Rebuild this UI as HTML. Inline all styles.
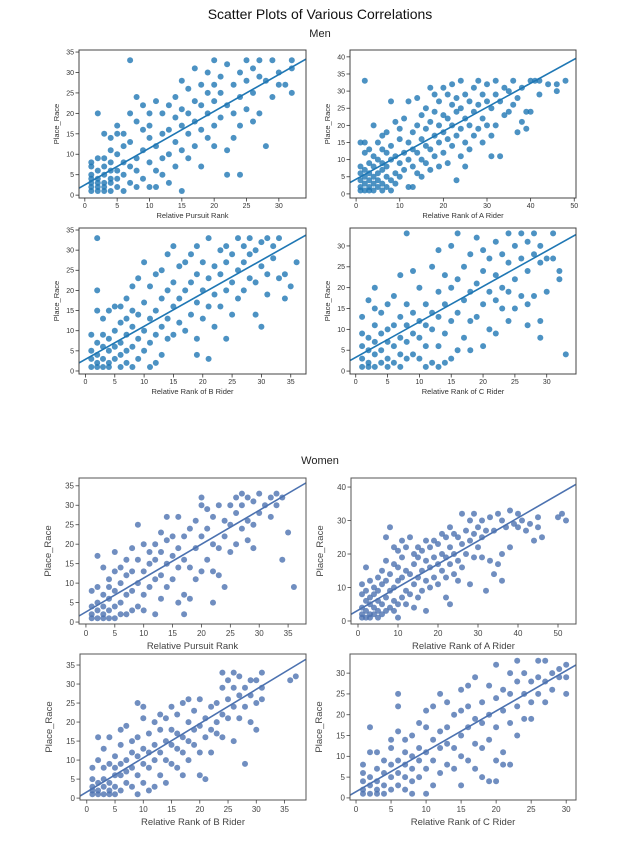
<!DOCTYPE html>
<html><head><meta charset="utf-8"><style>
body{margin:0;background:#fff;width:640px;height:854px;overflow:hidden}
svg{display:block;font-family:"Liberation Sans","DejaVu Sans",sans-serif}
</style></head><body>
<svg id="fig" width="640" height="854">
<text x="320" y="19" text-anchor="middle" font-size="14" fill="#111">Scatter Plots of Various Correlations</text>
<text x="320" y="37" text-anchor="middle" font-size="11" fill="#222">Men</text>
<text x="320" y="464" text-anchor="middle" font-size="11" fill="#222">Women</text>
</svg>
<script>
const menPursuit=[[1,1],[1,2],[1,3],[1,4],[1,5],[1,7],[1,8],[2,1],[2,2],[2,3],[2,4],[2,6],[2,9],[2,20],[3,1],[3,2],[3,3],[3,5],[3,7],[3,9],[3,15],[4,1],[4,3],[4,4],[4,6],[4,8],[4,11],[4,14],[5,2],[5,4],[5,6],[5,10],[5,15],[5,17],[6,1],[6,5],[6,8],[6,12],[6,15],[7,3],[7,7],[7,13],[7,20],[7,33],[8,2],[8,6],[8,9],[8,18],[8,24],[9,4],[9,11],[9,16],[9,22],[10,2],[10,8],[10,14],[10,17],[10,20],[11,2],[11,6],[11,12],[11,23],[12,5],[12,9],[12,15],[12,20],[13,3],[13,10],[13,16],[13,22],[14,7],[14,13],[14,19],[14,24],[15,1],[15,11],[15,17],[15,21],[15,28],[16,9],[16,15],[16,20],[16,26],[17,12],[17,18],[17,23],[17,31],[18,7],[18,16],[18,22],[18,27],[19,14],[19,20],[19,25],[19,30],[20,12],[20,17],[20,23],[20,27],[20,33],[21,19],[21,25],[21,29],[22,11],[22,5],[22,22],[22,32],[23,14],[23,20],[23,27],[24,5],[24,17],[24,24],[24,30],[25,21],[25,28],[25,33],[26,18],[26,25],[26,31],[27,20],[27,29],[27,33],[28,12],[28,28],[29,24],[29,33],[30,27],[30,30],[31,27],[32,25],[32,33],[32,31]];
const menA=[[1,1],[1,2],[1,4],[1,6],[1,8],[1,15],[2,1],[2,3],[2,5],[2,7],[2,12],[2,15],[2,33],[3,1],[3,2],[3,4],[3,6],[3,9],[3,13],[4,1],[4,3],[4,5],[4,8],[4,11],[4,20],[5,2],[5,4],[5,6],[5,10],[5,15],[6,1],[6,3],[6,7],[6,9],[6,13],[6,17],[7,2],[7,5],[7,8],[7,12],[7,18],[8,1],[8,4],[8,10],[8,14],[8,27],[9,3],[9,6],[9,11],[9,21],[10,5],[10,9],[10,16],[10,19],[11,7],[11,12],[11,22],[12,2],[12,10],[12,15],[12,27],[13,2],[13,8],[13,13],[13,18],[14,6],[14,12],[14,20],[14,28],[15,5],[15,10],[15,16],[15,23],[16,9],[16,14],[16,19],[16,25],[17,7],[17,13],[17,21],[17,31],[18,11],[18,17],[18,24],[18,29],[19,8],[19,15],[19,20],[19,27],[20,12],[20,18],[20,23],[20,31],[21,9],[21,16],[21,22],[21,29],[22,14],[22,20],[22,26],[22,32],[23,4],[23,17],[23,24],[23,28],[24,11],[24,19],[24,25],[24,33],[25,8],[25,15],[25,22],[25,29],[26,13],[26,20],[26,27],[27,17],[27,24],[27,31],[28,19],[28,26],[28,33],[29,15],[29,22],[29,29],[30,20],[30,27],[30,32],[31,11],[31,17],[31,25],[32,20],[32,29],[32,33],[33,11],[33,27],[34,23],[34,31],[35,24],[35,30],[36,26],[36,33],[37,18],[37,28],[38,21],[38,31],[39,19],[39,24],[40,33],[40,24],[41,33],[42,29],[42,33],[44,32],[46,30],[46,32],[48,33]];
const menB=[[1,1],[1,3],[1,5],[1,9],[2,1],[2,2],[2,4],[2,7],[2,15],[2,20],[2,33],[3,1],[3,3],[3,6],[3,9],[3,13],[4,1],[4,2],[4,5],[4,8],[4,15],[5,3],[5,6],[5,10],[5,16],[6,1],[6,4],[6,7],[6,12],[6,16],[7,2],[7,5],[7,9],[7,13],[7,18],[8,1],[8,6],[8,11],[8,15],[8,21],[9,3],[9,8],[9,14],[9,23],[10,5],[10,10],[10,17],[10,27],[11,1],[11,7],[11,13],[11,21],[12,2],[12,9],[12,15],[12,24],[13,4],[13,11],[13,18],[13,25],[14,8],[14,13],[14,20],[14,29],[15,9],[15,16],[15,22],[15,31],[16,12],[16,18],[16,26],[17,10],[17,20],[17,27],[18,14],[18,22],[18,29],[19,4],[19,8],[19,17],[19,24],[19,31],[20,13],[20,20],[20,27],[21,3],[21,16],[21,23],[21,33],[22,11],[22,19],[22,26],[23,16],[23,24],[23,30],[24,8],[24,20],[24,27],[24,31],[25,14],[25,22],[25,29],[26,18],[26,25],[26,33],[27,20],[27,27],[27,31],[28,23],[28,29],[28,33],[29,14],[29,22],[29,30],[30,11],[30,26],[30,32],[31,19],[31,24],[31,33],[32,28],[32,31],[33,23],[33,33],[34,18],[34,24],[35,21],[36,27]];
const menC=[[1,1],[1,3],[1,6],[1,9],[1,13],[2,1],[2,2],[2,5],[2,8],[2,17],[3,1],[3,4],[3,7],[3,11],[3,15],[3,20],[4,2],[4,5],[4,9],[4,14],[5,1],[5,3],[5,7],[5,10],[5,16],[6,2],[6,6],[6,11],[6,18],[7,1],[7,4],[7,8],[7,13],[7,23],[8,3],[8,7],[8,11],[8,16],[8,33],[9,4],[9,9],[9,14],[9,24],[10,3],[10,8],[10,12],[10,20],[11,6],[11,11],[11,16],[11,1],[12,2],[12,10],[12,14],[12,25],[13,1],[13,6],[13,13],[13,19],[13,29],[14,2],[14,9],[14,16],[14,23],[15,3],[15,12],[15,20],[15,30],[16,5],[16,14],[16,22],[16,33],[17,8],[17,17],[17,25],[18,5],[18,12],[18,19],[18,28],[19,13],[19,21],[19,32],[20,6],[20,16],[20,24],[20,29],[21,10],[21,19],[21,27],[22,9],[22,17],[22,23],[22,31],[23,15],[23,20],[23,28],[24,12],[24,19],[24,26],[24,33],[25,15],[25,22],[25,30],[26,18],[26,27],[26,33],[27,11],[27,16],[27,24],[27,31],[28,18],[28,28],[28,33],[29,8],[29,12],[29,26],[29,30],[30,19],[30,27],[31,27],[31,33],[32,22],[32,24],[33,4]];
const womenPursuit=[[1,1],[1,2],[1,4],[1,8],[2,1],[2,3],[2,5],[2,9],[2,17],[3,1],[3,2],[3,4],[3,7],[3,14],[4,1],[4,3],[4,6],[4,9],[4,11],[5,1],[5,4],[5,8],[5,13],[5,18],[6,2],[6,5],[6,10],[6,14],[7,2],[7,7],[7,12],[7,16],[8,3],[8,8],[8,13],[8,19],[9,4],[9,10],[9,16],[9,25],[10,3],[10,7],[10,13],[10,20],[11,9],[11,15],[11,18],[12,2],[12,11],[12,16],[12,20],[13,6],[13,12],[13,18],[13,23],[14,9],[14,15],[14,21],[14,27],[15,11],[15,17],[15,22],[16,5],[16,14],[16,19],[16,27],[17,2],[17,7],[17,16],[17,22],[18,6],[18,14],[18,24],[19,11],[19,19],[19,26],[20,13],[20,22],[20,30],[20,32],[21,16],[21,24],[21,29],[22,5],[22,13],[22,20],[22,27],[23,12],[23,19],[23,30],[24,9],[24,22],[24,26],[25,18],[25,25],[25,30],[26,20],[26,28],[26,32],[27,24],[27,30],[27,33],[28,21],[28,26],[28,32],[29,19],[29,25],[29,31],[30,28],[30,33],[31,30],[32,27],[32,32],[33,30],[33,33],[34,16],[34,32],[35,23],[36,9]];
const womenA=[[1,1],[1,2],[1,4],[1,8],[1,11],[2,1],[2,3],[2,6],[2,9],[2,16],[3,1],[3,2],[3,5],[3,7],[3,12],[4,2],[4,4],[4,8],[4,10],[5,1],[5,3],[5,6],[5,9],[5,13],[6,2],[6,5],[6,11],[6,15],[7,3],[7,7],[7,12],[7,18],[7,25],[8,4],[8,9],[8,14],[8,28],[9,3],[9,6],[9,10],[9,17],[9,22],[10,1],[10,5],[10,12],[10,16],[10,21],[11,7],[11,13],[11,19],[11,24],[12,5],[12,9],[12,15],[12,22],[13,8],[13,14],[13,25],[14,4],[14,11],[14,17],[14,20],[15,7],[15,13],[15,19],[15,22],[16,9],[16,15],[16,21],[17,3],[17,12],[17,18],[17,24],[18,10],[18,16],[18,22],[19,13],[19,19],[19,24],[20,11],[20,17],[20,23],[21,15],[21,20],[21,26],[22,7],[22,13],[22,19],[22,25],[23,5],[23,17],[23,22],[23,28],[24,14],[24,20],[24,26],[25,12],[25,18],[25,25],[26,16],[26,23],[26,32],[27,20],[27,27],[28,11],[28,24],[28,30],[29,19],[29,26],[29,32],[30,22],[30,28],[31,19],[31,25],[31,30],[32,9],[32,27],[33,18],[33,31],[34,14],[34,27],[35,17],[35,32],[36,12],[36,20],[36,30],[37,28],[38,22],[38,33],[39,29],[40,28],[40,32],[41,30],[42,27],[43,29],[44,24],[45,28],[45,31],[46,25],[50,31],[51,32],[52,30]];
const womenB=[[1,1],[1,2],[1,3],[1,5],[1,8],[2,1],[2,2],[2,4],[2,10],[2,16],[3,1],[3,3],[3,5],[3,8],[3,13],[4,1],[4,2],[4,4],[4,9],[4,16],[5,1],[5,3],[5,6],[5,8],[5,11],[6,2],[6,6],[6,9],[6,14],[6,18],[7,4],[7,7],[7,10],[7,19],[8,3],[8,8],[8,12],[8,15],[9,1],[9,6],[9,11],[9,16],[9,25],[10,4],[10,9],[10,13],[10,21],[10,24],[11,2],[11,8],[11,12],[11,17],[12,3],[12,10],[12,14],[12,20],[13,6],[13,12],[13,18],[13,22],[14,4],[14,10],[14,15],[14,21],[15,9],[15,14],[15,18],[15,24],[16,8],[16,13],[16,17],[16,22],[17,6],[17,12],[17,16],[17,25],[18,10],[18,15],[18,20],[18,26],[19,14],[19,18],[19,23],[20,6],[20,12],[20,19],[20,26],[21,5],[21,16],[21,21],[22,12],[22,18],[22,24],[23,17],[23,20],[23,25],[24,16],[24,22],[24,29],[24,33],[25,21],[25,26],[25,31],[26,15],[26,24],[26,29],[26,33],[27,21],[27,27],[27,32],[28,9],[28,24],[28,29],[29,20],[29,27],[29,31],[30,18],[30,25],[30,31],[31,26],[31,29],[31,33],[36,31],[37,32]];
const womenC=[[1,1],[1,2],[1,4],[1,6],[1,8],[2,1],[2,3],[2,5],[2,11],[2,17],[3,1],[3,2],[3,4],[3,7],[3,11],[4,1],[4,3],[4,6],[4,9],[5,2],[5,5],[5,8],[5,12],[5,14],[6,3],[6,6],[6,9],[6,16],[6,22],[6,25],[7,2],[7,5],[7,8],[7,11],[7,14],[8,1],[8,4],[8,7],[8,10],[8,15],[9,5],[9,9],[9,12],[9,18],[10,1],[10,7],[10,11],[10,17],[10,21],[11,3],[11,9],[11,14],[11,22],[12,6],[12,12],[12,16],[12,25],[13,8],[13,13],[13,17],[13,23],[14,7],[14,12],[14,20],[15,3],[15,10],[15,15],[15,21],[15,26],[16,9],[16,17],[16,22],[16,27],[17,7],[17,13],[17,19],[17,29],[18,5],[18,12],[18,18],[18,23],[19,4],[19,14],[19,20],[19,27],[20,4],[20,9],[20,17],[20,24],[20,32],[21,8],[21,11],[21,21],[21,26],[22,8],[22,18],[22,25],[22,30],[23,15],[23,22],[23,28],[23,33],[24,19],[24,25],[24,30],[25,19],[25,23],[25,28],[26,25],[26,29],[26,33],[27,23],[27,28],[27,33],[28,26],[28,30],[29,29],[29,31],[30,25],[30,29],[30,32]];
// regression line: intercept, slope
const fitIntercept=[2.5,4.3,2.9,3.3,2.6,3.2,1.6,1.5];
const fitSlope=[0.90,0.70,0.82,0.85,0.87,0.69,0.90,0.97];
const xTicksPursuitM=[0,5,10,15,20,25,30];
const xTicksA=[0,10,20,30,40,50];
const xTicksB=[0,5,10,15,20,25,30,35];
const xTicksC=[0,5,10,15,20,25,30];
const yTicks35=[0,5,10,15,20,25,30,35];
const yTicks40=[0,5,10,15,20,25,30,35,40];
const yTicks40W=[0,10,20,30,40];
const yTicks30=[0,5,10,15,20,25,30];

const panels=[
 {id:'men-pursuit',d:menPursuit,xl:'Relative Pursuit Rank',bx:[79,306,50,198],xd:[-0.9,34.2],yd:[-0.7,35.5],xt:xTicksPursuitM,yt:yTicks35,w:false},
 {id:'men-a-rider',d:menA,xl:'Relative Rank of A Rider',bx:[350,576,50,198],xd:[-1.4,50.4],yd:[-1.2,42],xt:xTicksA,yt:yTicks40,w:false},
 {id:'men-b-rider',d:menB,xl:'Relative Rank of B Rider',bx:[79,306,228,374],xd:[-1.1,37.6],yd:[-0.75,35.5],xt:xTicksB,yt:yTicks35,w:false},
 {id:'men-c-rider',d:menC,xl:'Relative Rank of C Rider',bx:[350,576,228,374],xd:[-0.9,34.6],yd:[-0.7,34.3],xt:xTicksC,yt:yTicks30,w:false},
 {id:'women-pursuit',d:womenPursuit,xl:'Relative Pursuit Rank',bx:[79,306,478,624],xd:[-1.2,38.1],yd:[-0.5,37],xt:xTicksB,yt:yTicks35,w:true},
 {id:'women-a-rider',d:womenA,xl:'Relative Rank of A Rider',bx:[351,576,478,624],xd:[-1.75,54.5],yd:[-0.9,42.7],xt:xTicksA,yt:yTicks40W,w:true},
 {id:'women-b-rider',d:womenB,xl:'Relative Rank of B Rider',bx:[80,306,654,800],xd:[-1.2,38.8],yd:[-0.5,37.9],xt:xTicksB,yt:yTicks35,w:true},
 {id:'women-c-rider',d:womenC,xl:'Relative Rank of C Rider',bx:[350,576,654,800],xd:[-0.86,31.4],yd:[-0.5,34.6],xt:xTicksC,yt:yTicks30,w:true}
];
const NS='http://www.w3.org/2000/svg';
const svg=document.getElementById('fig');
function mk(tag,attrs,parent){const e=document.createElementNS(NS,tag);for(const k in attrs)e.setAttribute(k,attrs[k]);parent.appendChild(e);return e;}
panels.forEach((p,i)=>{
 const [L,R,T,B]=p.bx;
 const sx=v=>L+(v-p.xd[0])/(p.xd[1]-p.xd[0])*(R-L);
 const sy=v=>B-(v-p.yd[0])/(p.yd[1]-p.yd[0])*(B-T);
 const col=p.w?'#4c72b0':'#1f77b4';
 const tc=p.w?'#444':'#333';
 const fs=p.w?8:7;
 const lfs=p.w?9.5:7.5;
 const g=mk('g',{},svg);
 
 
 const clipId='clip'+i;
 const cp=mk('clipPath',{id:clipId},g);
 mk('rect',{x:L,y:T,width:R-L,height:B-T},cp);
 const pts=mk('g',{'clip-path':'url(#'+clipId+')'},g);
 
 
 p.d.forEach(pt=>{
  const c=mk('circle',{cx:sx(pt[0]).toFixed(1),cy:sy(pt[1]).toFixed(1),r:3,fill:col,'fill-opacity':0.8},pts);
  
  
 });
 const ln=mk('line',{x1:sx(p.xd[0]),y1:sy(fitIntercept[i]+fitSlope[i]*p.xd[0]),x2:sx(p.xd[1]),y2:sy(fitIntercept[i]+fitSlope[i]*p.xd[1]),stroke:col,'stroke-width':1.6},pts);
 
 
 const fr=mk('rect',{x:L,y:T,width:R-L,height:B-T,fill:'none',stroke:p.w?'#555':'#444','stroke-width':1},g);
 
 
 p.xt.forEach(v=>{
  const x=sx(v);
  mk('line',{x1:x,y1:B,x2:x,y2:B+3.5,stroke:tc,'stroke-width':0.8},g);
  const t=mk('text',{x:x,y:B+(p.w?12:10),'text-anchor':'middle','font-size':fs,fill:tc},g);
  t.textContent=v;
  
  
 });
 p.yt.forEach(v=>{
  const y=sy(v);
  mk('line',{x1:L-3.5,y1:y,x2:L,y2:y,stroke:tc,'stroke-width':0.8},g);
  const t=mk('text',{x:L-5,y:y+fs*0.35,'text-anchor':'end','font-size':fs,fill:tc},g);
  t.textContent=v;
  
  
 });
 const xl=mk('text',{x:(L+R)/2,y:B+(p.w?25:20),'text-anchor':'middle','font-size':lfs,fill:tc},g);
 xl.textContent=p.xl;
 
 
 const yx=L-(p.w?28:20), yy=(T+B)/2;
 const yl=mk('text',{x:yx,y:yy,'text-anchor':'middle','font-size':lfs,fill:tc,transform:'rotate(-90 '+yx+' '+yy+')'},g);
 yl.textContent='Place_Race';
 
 
});
</script>
</body></html>
